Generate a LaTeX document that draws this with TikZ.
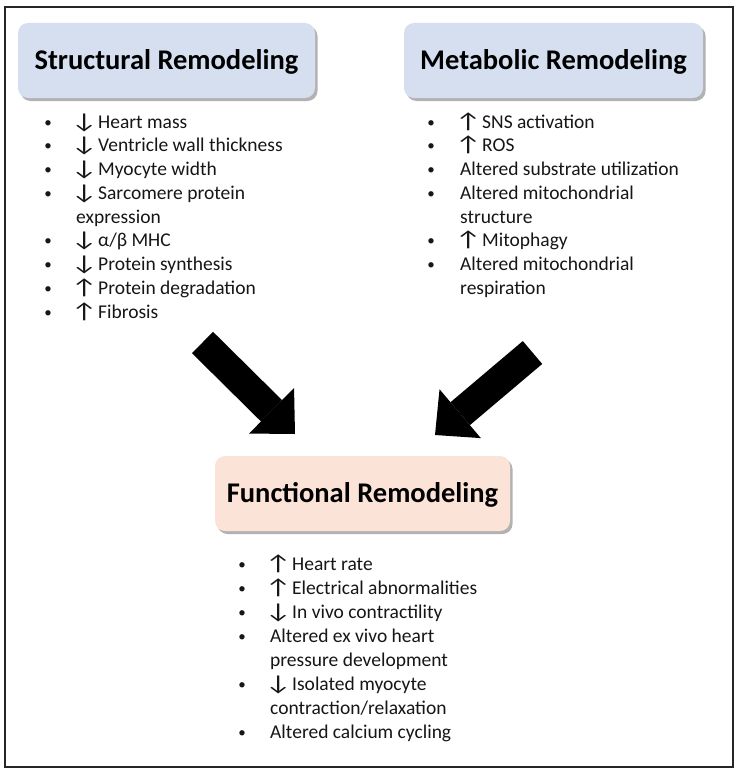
\documentclass[tikz,border=0pt]{standalone}
\usepackage{fontspec}
\setmainfont{Carlito}
\usetikzlibrary{arrows.meta,shadows}
\definecolor{sblue}{HTML}{D5DFF0}
\definecolor{speach}{HTML}{FBE4D7}
\definecolor{txt}{HTML}{161616}
\newcommand{\dn}{\makebox[22pt][l]{\hspace*{-5pt}\fontsize{21.5}{22}\selectfont\scalebox{1.35}[1]{↓}}}
\newcommand{\upa}{\makebox[22pt][l]{\hspace*{-5pt}\fontsize{21.5}{22}\selectfont\scalebox{1.35}[1]{↑}}}
\tikzset{
  titlebox/.style={rounded corners=10pt, minimum height=75pt, inner sep=0pt,
    font=\bfseries\fontsize{28.5}{30}\selectfont, text=black,
    text height=18.4pt, text depth=0pt,
    drop shadow={shadow xshift=2.5pt, shadow yshift=-3pt, fill=black, opacity=0.3}},
  itm/.style={anchor=base west, inner sep=0pt, text=txt, font=\fontsize{19.5}{23.7}\selectfont},
  bul/.style={anchor=base, inner sep=0pt, text=txt, font=\fontsize{15}{15}\selectfont},
  bigarrow/.style={line width=30pt, black, -{Triangle[length=33pt,width=64pt,line width=0pt]}}
}
\begin{document}
\begin{tikzpicture}[x=1pt,y=-1pt]
\useasboundingbox (0,0) rectangle (742,776);
\fill[white] (0,0) rectangle (742,776);
\draw[line width=1.8pt, black!85] (5,7) rectangle (733,767);

% title boxes
\node[titlebox, fill=sblue, minimum width=297pt] (struct) at (166.5,60.5) {Structural Remodeling};
\node[titlebox, fill=sblue, minimum width=299pt] (metab) at (553.5,60.5) {Metabolic Remodeling};
\node[titlebox, fill=speach, minimum width=295pt] (func) at (362.5,493.5) {Functional Remodeling};

% structural list
\foreach \k/\t in {0/{\dn Heart mass}, 1/{\dn Ventricle wall thickness}, 2/{\dn Myocyte width},
  3/{\dn Sarcomere protein}, 4/{expression}, 5/{\dn α/β MHC}, 6/{\dn Protein synthesis},
  7/{\upa Protein degradation}, 8/{\upa Fibrosis}}
  \node[itm] (s\k) at (76,{128+23.75*\k}) {\t};
\foreach \k in {0,1,2,3,5,6,7,8}
  \node[bul] (sb\k) at (48,{127+23.75*\k}) {•};

% metabolic list
\foreach \k/\t in {0/{\upa SNS activation}, 1/{\upa ROS}, 2/{Altered substrate utilization},
  3/{Altered mitochondrial}, 4/{structure}, 5/{\upa Mitophagy}, 6/{Altered mitochondrial},
  7/{respiration}}
  \node[itm] (m\k) at (460,{128+23.75*\k}) {\t};
\foreach \k in {0,1,2,3,5,6}
  \node[bul] (mb\k) at (431,{127+23.75*\k}) {•};

% functional list
\foreach \k/\t in {0/{\upa Heart rate}, 1/{\upa Electrical abnormalities}, 2/{\dn In vivo contractility},
  3/{Altered ex vivo heart}, 4/{pressure development}, 5/{\dn Isolated myocyte},
  6/{contraction/relaxation}, 7/{Altered calcium cycling}}
  \node[itm] (f\k) at (270,{570+24*\k}) {\t};
\foreach \k in {0,1,2,3,5,7}
  \node[bul] (fb\k) at (242,{569+24*\k}) {•};

% block arrows
\coordinate (la) at (202.5,342.5);
\coordinate (lb) at (295,434);
\coordinate (ra) at (532.5,352.5);
\coordinate (rb) at (435,435);
\draw[bigarrow] (la) -- (lb);
\draw[bigarrow] (ra) -- (rb);
\end{tikzpicture}
\end{document}
